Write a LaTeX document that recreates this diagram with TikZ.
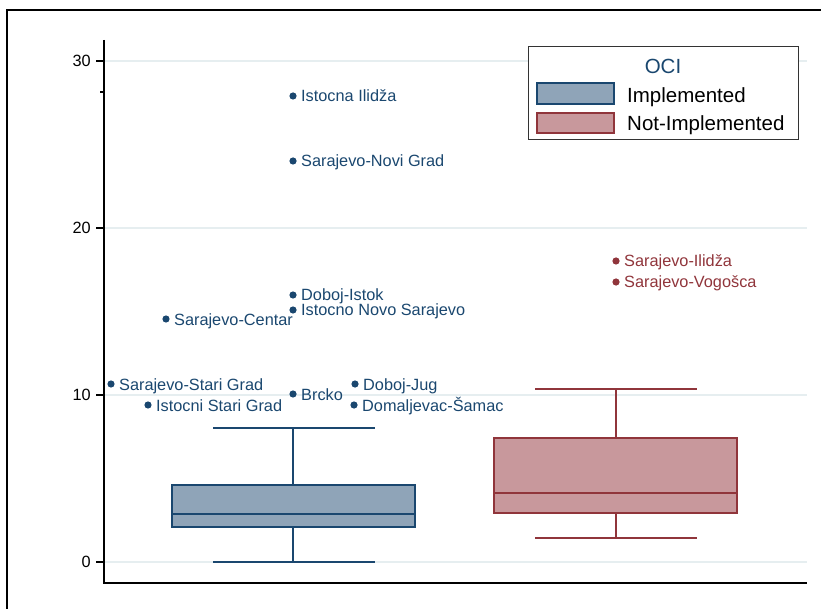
\documentclass[tikz,border=0pt]{standalone}
\usepackage{fontspec}
\setmainfont{Liberation Sans}
\definecolor{navy}{RGB}{26,71,111}
\definecolor{navyfill}{RGB}{143,164,184}
\definecolor{maroon}{RGB}{144,53,59}
\definecolor{maroonfill}{RGB}{200,152,156}
\definecolor{gridc}{RGB}{230,238,240}
\begin{document}
\begin{tikzpicture}[x=1pt,y=-1pt,
  gridline/.style={gridc,line width=1.2pt},
  axisline/.style={black,line width=1.1pt},
  ticklbl/.style={anchor=east,inner sep=0pt,font=\fontsize{16.3}{19}\selectfont},
  boxline/.style={line width=1.8pt},
  lbl/.style={anchor=base west,inner sep=0pt,text depth=0pt,font=\fontsize{16.3}{19}\selectfont},
  legtext/.style={anchor=base west,inner sep=0pt,font=\fontsize{20.5}{24}\selectfont},
  dot/.style={circle,inner sep=0pt,minimum size=7.2pt}]
\useasboundingbox (0,0) rectangle (821,609);

% outer frame
\draw[line width=2pt] (7,610) -- (7,10) -- (822,10);

% gridlines, axes and ticks
\foreach \v/\yy in {0/562,10/395,20/228,30/61}{
  \draw[gridline] (104,\yy) -- (807,\yy);
  \draw[axisline] (96,\yy) -- (104,\yy);
  \node[ticklbl] at (91,\yy) {\v};
}
\draw[axisline] (100,92) -- (104,92);
\draw[axisline] (104,40) -- (104,583) -- (807,583);

% box: Implemented
\begin{scope}[navy,boxline]
  \draw (293,428) -- (293,485);
  \draw (293,527) -- (293,562);
  \draw (213,428) -- (375,428);
  \draw (213,562) -- (375,562);
  \filldraw[fill=navyfill] (172,485) rectangle (415,527);
  \draw (172,514) -- (415,514);
\end{scope}

% box: Not-Implemented
\begin{scope}[maroon,boxline]
  \draw (616,389) -- (616,438);
  \draw (616,513) -- (616,538);
  \draw (535,389) -- (697,389);
  \draw (535,538) -- (697,538);
  \filldraw[fill=maroonfill] (494,438) rectangle (737,513);
  \draw (494,493) -- (737,493);
\end{scope}

% outliers, Implemented
\foreach \n/\px/\py/\t in {
  a/293/96/{Istocna Ilidža},
  b/293/161/{Sarajevo-Novi Grad},
  c/293/295/{Doboj-Istok},
  d/293/310/{Istocno Novo Sarajevo},
  e/166/319/{Sarajevo-Centar},
  f/111/384/{Sarajevo-Stari Grad},
  g/148/405/{Istocni Stari Grad},
  h/293/394/{Brcko},
  i/355/384/{Doboj-Jug},
  j/354/405/{Domaljevac-Šamac}}{
  \node[dot,fill=navy] (p\n) at (\px,\py) {};
  \node[lbl,navy] (l\n) at (\px+8,\py+6) {\t};
}

% outliers, Not-Implemented
\foreach \n/\px/\py/\t in {
  k/616/261/{Sarajevo-Ilidža},
  m/616/282/{Sarajevo-Vogošca}}{
  \node[dot,fill=maroon] (p\n) at (\px,\py) {};
  \node[lbl,maroon] (l\n) at (\px+8,\py+6) {\t};
}

% legend
\filldraw[draw=black!80,fill=white,line width=1pt] (528,47) rectangle (798,140);
\node[font=\fontsize{20.5}{24}\selectfont,text=navy,anchor=base,inner sep=0pt] (legtitle) at (663,74) {OCI};
\filldraw[navy,fill=navyfill,line width=1.6pt] (537,83) rectangle (614,104);
\filldraw[maroon,fill=maroonfill,line width=1.6pt] (537,113) rectangle (614,133);
\node[legtext] (leg1) at (627,103) {Implemented};
\node[legtext] (leg2) at (627,131) {Not-Implemented};
\end{tikzpicture}
\end{document}
